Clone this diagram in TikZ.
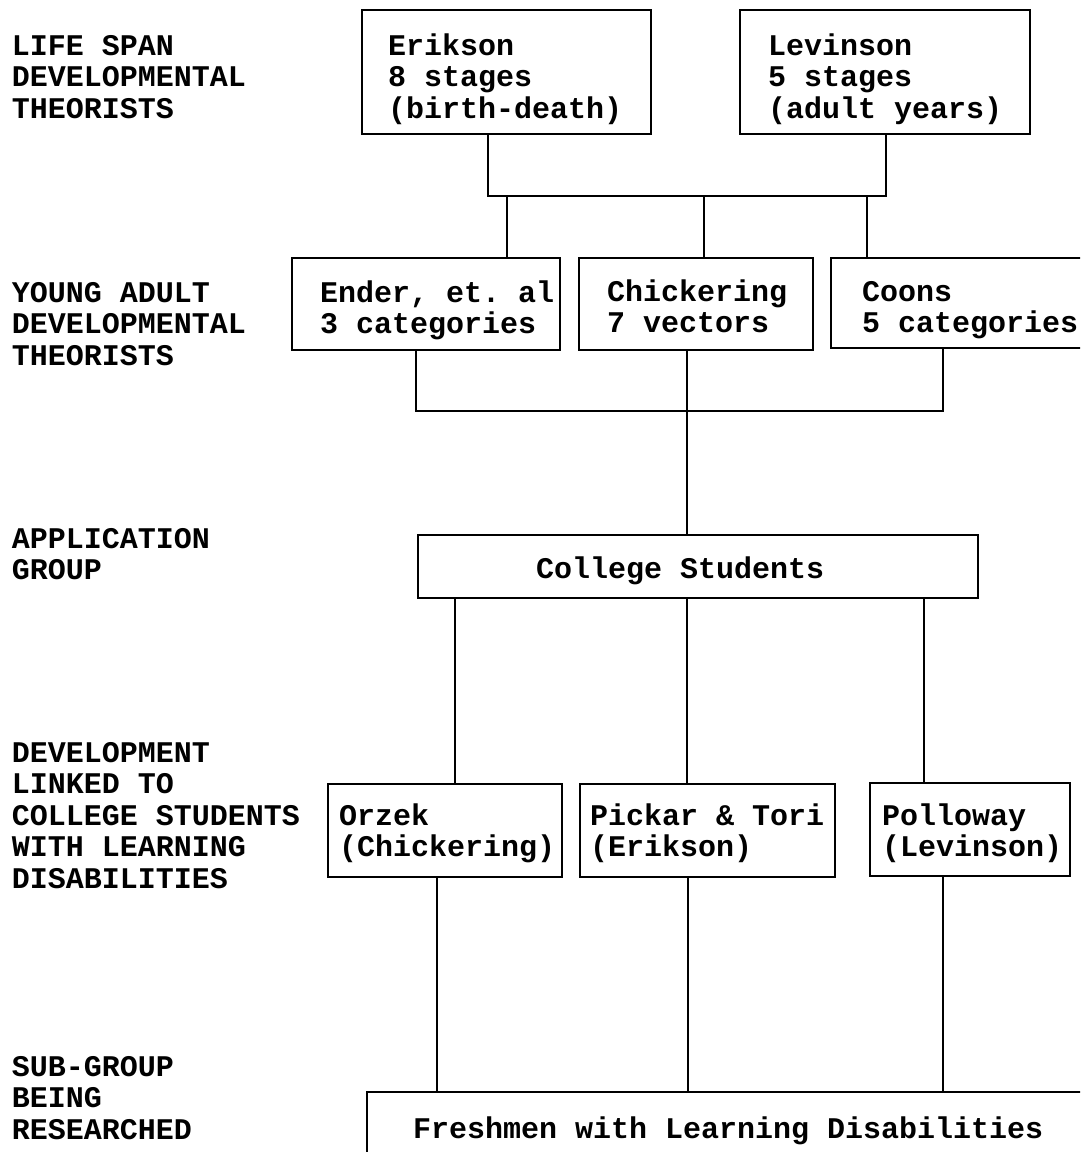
\documentclass[tikz,border=0pt]{standalone}
\usepackage{fontspec}
\setmonofont{Liberation Mono}[HyphenChar=None]
\newcommand\bxtext[3]{\makebox[#1][l]{\hspace*{#2}\begin{tabular}[t]{@{}l@{}}#3\end{tabular}}}
\newcommand\lbltext[1]{\begin{tabular}[t]{@{}l@{}}#1\end{tabular}}
\begin{document}
\begin{tikzpicture}[x=1pt,y=-1pt,line width=2.2pt,
  txt/.style={font=\ttfamily\bfseries\fontsize{30}{31.5}\selectfont},
  lbl/.style={txt,anchor=base west,inner sep=0pt,outer sep=0pt},
  box/.style={txt,draw,anchor=north west,outer sep=0pt,inner sep=0pt}]
\useasboundingbox (0,0) rectangle (1080,1152);
\clip (0,0) rectangle (1080,1152);
\fill[white] (0,0) rectangle (1080,1152);

% left-hand labels
\node[lbl] (l1) at (12,55) {\lbltext{LIFE SPAN\\DEVELOPMENTAL\\THEORISTS}};
\node[lbl] (l2) at (12,302) {\lbltext{YOUNG ADULT\\DEVELOPMENTAL\\THEORISTS}};
\node[lbl] (l3) at (12,548) {\lbltext{APPLICATION\\GROUP}};
\node[lbl] (l4) at (12,762) {\lbltext{DEVELOPMENT\\LINKED TO\\COLLEGE STUDENTS\\WITH LEARNING\\DISABILITIES}};
\node[lbl] (l5) at (12,1076) {\lbltext{SUB-GROUP\\BEING\\RESEARCHED}};

% row 1
\node[box,text height=45pt,text depth=79pt] (erik) at (362,10)
  {\bxtext{289pt}{26pt}{Erikson\\8 stages\\(birth-death)}};
\node[box,text height=45pt,text depth=79pt] (levi) at (740,10)
  {\bxtext{290pt}{28pt}{Levinson\\5 stages\\(adult years)}};

% row 2
\node[box,text height=44pt,text depth=48pt] (ender) at (292,258)
  {\bxtext{268pt}{28pt}{Ender, et. al\\3 categories}};
\node[box,text height=43pt,text depth=49pt] (chick) at (579,258)
  {\bxtext{234pt}{28pt}{Chickering\\7 vectors}};
\node[box,text height=43pt,text depth=47pt] (coons) at (831,258)
  {\bxtext{300pt}{31pt}{Coons\\5 categories}};

% row 3
\node[box,text height=43pt,text depth=20pt] (college) at (418,535)
  {\bxtext{560pt}{118pt}{College Students}};

% row 4
\node[box,text height=41pt,text depth=52pt] (orzek) at (328,784)
  {\bxtext{234pt}{11pt}{Orzek\\(Chickering)}};
\node[box,text height=41pt,text depth=52pt] (pickar) at (580,784)
  {\bxtext{255pt}{10pt}{Pickar \& Tori\\(Erikson)}};
\node[box,text height=42pt,text depth=51pt] (pollo) at (870,783)
  {\bxtext{200pt}{12pt}{Polloway\\(Levinson)}};

% row 5
\node[box,text height=46pt,text depth=40pt] (fresh) at (367,1092)
  {\bxtext{780pt}{46pt}{Freshmen with Learning Disabilities}};

% bus coordinates
\coordinate (b1L) at (488,196);
\coordinate (b1R) at (886,196);
\coordinate (d1) at (507,196);
\coordinate (d2) at (704,196);
\coordinate (d3) at (867,196);
\coordinate (b2L) at (416,411);
\coordinate (b2R) at (943,411);
\coordinate (b2C) at (687,411);
\coordinate (k1) at (455,700);
\coordinate (k2) at (687,700);
\coordinate (k3) at (924,700);
\coordinate (m1) at (437,1000);
\coordinate (m2) at (688,1000);
\coordinate (m3) at (943,1000);

% connectors
\draw (b1L |- erik.south) -- (b1L) -- (b1R) -- (b1R |- levi.south);
\draw (d1) -- (d1 |- ender.north);
\draw (d2) -- (d2 |- chick.north);
\draw (d3) -- (d3 |- coons.north);
\draw (b2L |- ender.south) -- (b2L) -- (b2R) -- (b2R |- coons.south);
\draw (b2C |- chick.south) -- (b2C |- college.north);
\draw (k1 |- college.south) -- (k1 |- orzek.north);
\draw (k2 |- college.south) -- (k2 |- pickar.north);
\draw (k3 |- college.south) -- (k3 |- pollo.north);
\draw (m1 |- orzek.south) -- (m1 |- fresh.north);
\draw (m2 |- pickar.south) -- (m2 |- fresh.north);
\draw (m3 |- pollo.south) -- (m3 |- fresh.north);
\end{tikzpicture}
\end{document}
